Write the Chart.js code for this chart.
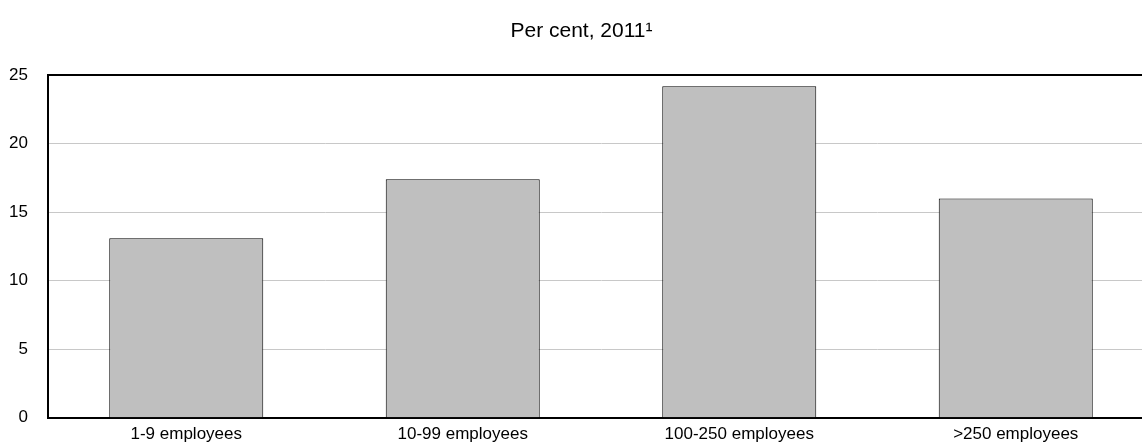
<!DOCTYPE html>
<html>
<head>
<meta charset="utf-8">
<script src="https://cdn.jsdelivr.net/npm/chart.js@4/dist/chart.umd.min.js"></script>
<style>
  html, body { margin: 0; padding: 0; overflow: hidden; background: #fff; width: 1142px; height: 448px; }
  #wrap { width: 1156px; height: 448px; position: relative; }
</style>
</head>
<body>
<div id="wrap"><canvas id="c" width="1156" height="448"></canvas></div>
<script>
const categories = ["1-9 employees", "10-99 employees", "100-250 employees", ">250 employees"];
const values = [13.1, 17.4, 24.2, 16.0];
const titleText = "Per cent, 2011\u00B9";
const yTicks = [0, 5, 10, 15, 20, 25];

const FONT = "'Liberation Sans', Arial, sans-serif";

new Chart(document.getElementById('c'), {
  type: 'bar',
  data: {
    labels: categories,
    datasets: [{
      data: values,
      backgroundColor: '#BFBFBF',
      borderColor: '#000000',
      borderWidth: 1,
      barPercentage: 0.557,
      categoryPercentage: 1.0
    }]
  },
  options: {
    responsive: false,
    animation: false,
    devicePixelRatio: 1,
    layout: { padding: { top: 6, left: 9, right: 2, bottom: 2 } },
    plugins: {
      legend: { display: false },
      tooltip: { enabled: false },
      title: {
        display: true,
        text: titleText,
        color: '#000',
        font: { family: FONT, size: 21, weight: 'normal' },
        padding: { top: 13, bottom: 31 }
      }
    },
    scales: {
      x: {
        grid: { display: false, drawTicks: false, tickLength: 0 },
        border: { display: true, color: '#000', width: 2 },
        ticks: { color: '#000', font: { family: FONT, size: 17 }, padding: 6, maxRotation: 0 },
        afterFit: (axis) => { axis.paddingLeft = 0; axis.paddingRight = 0; axis.height = 26; }
      },
      y: {
        min: 0, max: 25,
        afterBuildTicks: (axis) => { axis.ticks = yTicks.map(v => ({ value: v })); },
        grid: {
          drawTicks: false,
          tickLength: 0,
          color: (ctx) => ctx.tick && ctx.tick.value === 25 ? '#000' : '#C8C8C8',
          lineWidth: (ctx) => ctx.tick && ctx.tick.value === 25 ? 2 : 1
        },
        border: { display: true, color: '#000', width: 2 },
        ticks: { color: '#000', font: { family: FONT, size: 17 }, padding: 20 },
        afterFit: (axis) => { axis.width = 39; }
      }
    }
  }
});
</script>
</body>
</html>
